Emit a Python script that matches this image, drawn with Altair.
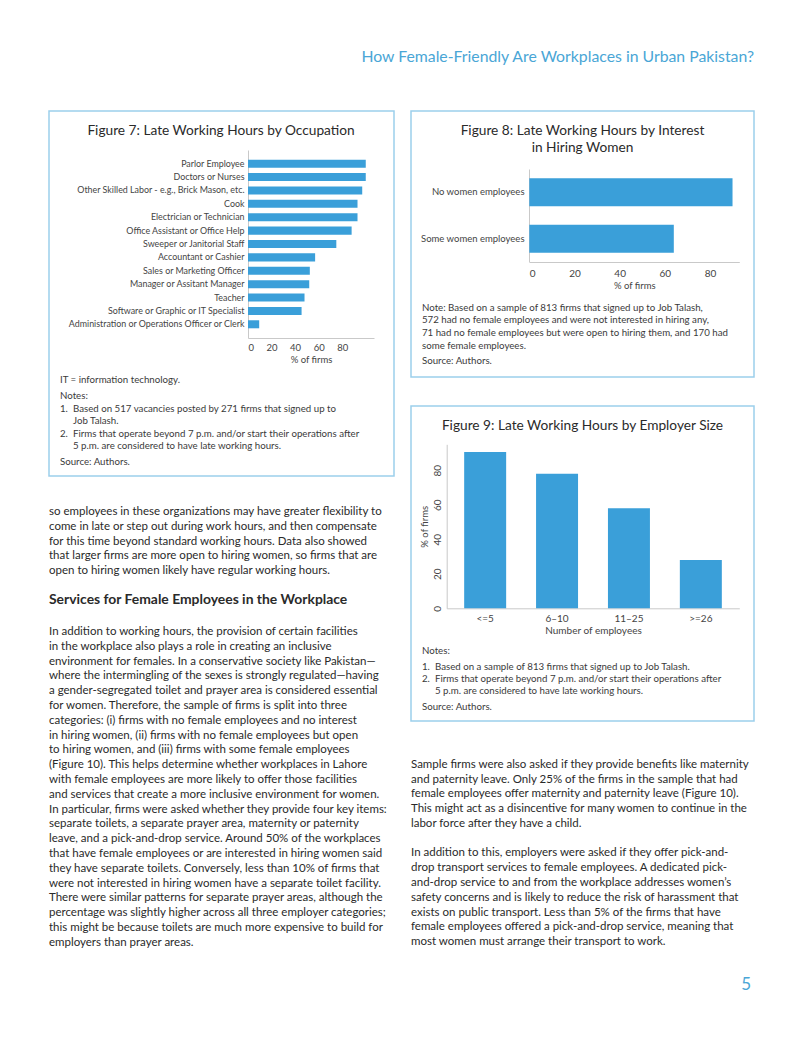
import altair as alt
import pandas as pd

FONT = "Lato"
BAR = "#3a9fd9"
BORDER = "#9ccfec"
ACCENT = "#4aa6d6"
INK = "#2a2a2a"
NOTE = "#3a3a3a"
AXIS_C = "#c9c9c9"

# ---------------- data ----------------
occupations = [
    "Parlor Employee",
    "Doctors or Nurses",
    "Other Skilled Labor - e.g., Brick Mason, etc.",
    "Cook",
    "Electrician or Technician",
    "Office Assistant or Office Help",
    "Sweeper or Janitorial Staff",
    "Accountant or Cashier",
    "Sales or Marketing Officer",
    "Manager or Assitant Manager",
    "Teacher",
    "Software or Graphic or IT Specialist",
    "Administration or Operations Officer or Clerk",
]
occupation_pct = [100, 100, 97, 93, 93, 88, 75, 57, 52.5, 52, 48, 45.5, 9.5]
occ_ticks = [0, 20, 40, 60, 80]

interest_groups = ["No women employees", "Some women employees"]
interest_pct = [90, 64]
interest_ticks = [0, 20, 40, 60, 80]

size_groups = ["<=5", "6\u201310", "11\u201325", ">=26"]
size_pct = [90.5, 78, 58, 28]
size_ticks = [0, 20, 40, 60, 80]

ONE = pd.DataFrame({"k": [0]})


def text(lines, x, y, size=10, color=INK, align="left", weight="normal", lh=None):
    base = y + 0.33 * size
    return alt.Chart(ONE).mark_text(
        align=align, baseline="alphabetic", font=FONT, fontSize=size,
        fontWeight=weight, color=color, lineHeight=lh if lh else size * 1.25,
    ).encode(x=alt.value(x), y=alt.value(base), text=alt.value(lines))


AX = dict(domainColor=AXIS_C, ticks=False, grid=False, labelFont=FONT,
          labelColor="#444", titleFont=FONT, titleColor="#444",
          titleFontWeight="normal")

BOX_VIEW = alt.ViewBackground(stroke=BORDER, strokeWidth=1.5, strokeOpacity=1, fill="white")
PLAIN_VIEW = alt.ViewBackground(stroke="transparent", strokeOpacity=0)

NOTE_SIZE = 9.7
TITLE_SIZE = 13.7

# ---------------- Figure 7 ----------------
occ_df = pd.DataFrame({"occupation": occupations, "pct": occupation_pct})
bars7 = alt.Chart(occ_df).mark_bar(color=BAR).encode(
    x=alt.X("pct:Q",
            scale=alt.Scale(domain=[0, 107], range=[199, 325], nice=False, zero=True),
            axis=alt.Axis(values=occ_ticks, offset=-138, title="% of firms",
                          labelFontSize=9.5, titleFontSize=9.5, labelPadding=4,
                          titlePadding=3, **AX)),
    y=alt.Y("occupation:N", sort=occupations,
            scale=alt.Scale(range=[39, 227], paddingInner=0.4, paddingOuter=0.725),
            axis=alt.Axis(offset=-199, title=None, labelFontSize=8.9, labelPadding=4,
                          labelLimit=300, **AX)),
)
fig7 = alt.layer(
    text("Figure 7: Late Working Hours by Occupation", 172, 19, size=TITLE_SIZE, align="center"),
    bars7,
    text("IT = information technology.", 11, 269, size=NOTE_SIZE, color=NOTE),
    text("Notes:", 11, 285, size=NOTE_SIZE, color=NOTE),
    text("1.", 11, 297.7, size=NOTE_SIZE, color=NOTE),
    text(["Based on 517 vacancies posted by 271 firms that signed up to", "Job Talash."],
         24, 297.7, size=NOTE_SIZE, color=NOTE, lh=12.2),
    text("2.", 11, 322.7, size=NOTE_SIZE, color=NOTE),
    text(["Firms that operate beyond 7 p.m. and/or start their operations after",
          "5 p.m. are considered to have late working hours."],
         24, 322.7, size=NOTE_SIZE, color=NOTE, lh=12.2),
    text("Source: Authors.", 11, 351, size=NOTE_SIZE, color=NOTE),
).properties(width=345, height=365, view=BOX_VIEW)

# ---------------- Figure 8 ----------------
int_df = pd.DataFrame({"group": interest_groups, "pct": interest_pct})
bars8 = alt.Chart(int_df).mark_bar(color=BAR).encode(
    x=alt.X("pct:Q",
            scale=alt.Scale(domain=[0, 93], range=[118.3, 328.3], nice=False, zero=True),
            axis=alt.Axis(values=interest_ticks, offset=-115, title="% of firms",
                          labelFontSize=10, titleFontSize=9.5, labelPadding=6,
                          titlePadding=2, **AX)),
    y=alt.Y("group:N", sort=interest_groups,
            scale=alt.Scale(range=[58, 151], paddingInner=0.395, paddingOuter=0.2),
            axis=alt.Axis(offset=-118, title=None, labelFontSize=9.5, labelPadding=5,
                          labelLimit=300, **AX)),
)
fig8 = alt.layer(
    text(["Figure 8: Late Working Hours by Interest", "in Hiring Women"], 171.5, 19.3,
         size=TITLE_SIZE, align="center", lh=16.7),
    bars8,
    text(["Note: Based on a sample of 813 firms that signed up to Job Talash,",
          "572 had no female employees and were not interested in hiring any,",
          "71 had no female employees but were open to hiring them, and 170 had",
          "some female employees."], 11, 196.7, size=NOTE_SIZE, color=NOTE, lh=12.6),
    text("Source: Authors.", 11, 250, size=NOTE_SIZE, color=NOTE),
).properties(width=343, height=266, view=BOX_VIEW)

# ---------------- Figure 9 ----------------
size_df = pd.DataFrame({"size": size_groups, "pct": size_pct})
bars9 = alt.Chart(size_df).mark_bar(color=BAR).encode(
    x=alt.X("size:N", sort=size_groups,
            scale=alt.Scale(range=[35.7, 328.3], paddingInner=0.416, paddingOuter=0.243),
            axis=alt.Axis(offset=-112.7, title="Number of employees", labelAngle=0,
                          labelFontSize=10, titleFontSize=10, labelPadding=5,
                          titlePadding=2, **AX)),
    y=alt.Y("pct:Q",
            scale=alt.Scale(domain=[0, 95], range=[202.3, 38.3], nice=False, zero=True),
            axis=alt.Axis(values=size_ticks, offset=-35.7, title="% of firms",
                          labelAngle=270, labelAlign="center", labelBaseline="bottom",
                          labelFontSize=10, titleFontSize=9.5, labelPadding=4,
                          titlePadding=3, **AX)),
)
fig9 = alt.layer(
    text("Figure 9: Late Working Hours by Employer Size", 171.5, 19, size=TITLE_SIZE, align="center"),
    bars9,
    text("Notes:", 11, 244.3, size=NOTE_SIZE, color=NOTE),
    text("1.", 11, 260.7, size=NOTE_SIZE, color=NOTE),
    text("Based on a sample of 813 firms that signed up to Job Talash.", 24, 260.7,
         size=NOTE_SIZE, color=NOTE),
    text("2.", 11, 272.7, size=NOTE_SIZE, color=NOTE),
    text(["Firms that operate beyond 7 p.m. and/or start their operations after",
          "5 p.m. are considered to have late working hours."],
         24, 272.7, size=NOTE_SIZE, color=NOTE, lh=12.3),
    text("Source: Authors.", 11, 301, size=NOTE_SIZE, color=NOTE),
).properties(width=343, height=315, view=BOX_VIEW)

# ---------------- body text ----------------
BODY = 11.5
LH = 14.8
left_p1 = [
    "so employees in these organizations may have greater flexibility to",
    "come in late or step out during work hours, and then compensate",
    "for this time beyond standard working hours. Data also showed",
    "that larger firms are more open to hiring women, so firms that are",
    "open to hiring women likely have regular working hours.",
]
left_head = "Services for Female Employees in the Workplace"
left_p2 = [
    "In addition to working hours, the provision of certain facilities",
    "in the workplace also plays a role in creating an inclusive",
    "environment for females. In a conservative society like Pakistan\u2014",
    "where the intermingling of the sexes is strongly regulated\u2014having",
    "a gender-segregated toilet and prayer area is considered essential",
    "for women. Therefore, the sample of firms is split into three",
    "categories: (i) firms with no female employees and no interest",
    "in hiring women, (ii) firms with no female employees but open",
    "to hiring women, and (iii) firms with some female employees",
    "(Figure 10). This helps determine whether workplaces in Lahore",
    "with female employees are more likely to offer those facilities",
    "and services that create a more inclusive environment for women.",
    "In particular, firms were asked whether they provide four key items:",
    "separate toilets, a separate prayer area, maternity or paternity",
    "leave, and a pick-and-drop service. Around 50% of the workplaces",
    "that have female employees or are interested in hiring women said",
    "they have separate toilets. Conversely, less than 10% of firms that",
    "were not interested in hiring women have a separate toilet facility.",
    "There were similar patterns for separate prayer areas, although the",
    "percentage was slightly higher across all three employer categories;",
    "this might be because toilets are much more expensive to build for",
    "employers than prayer areas.",
]
right_p1 = [
    "Sample firms were also asked if they provide benefits like maternity",
    "and paternity leave. Only 25% of the firms in the sample that had",
    "female employees offer maternity and paternity leave (Figure 10).",
    "This might act as a disincentive for many women to continue in the",
    "labor force after they have a child.",
]
right_p2 = [
    "In addition to this, employers were asked if they offer pick-and-",
    "drop transport services to female employees. A dedicated pick-",
    "and-drop service to and from the workplace addresses women\u2019s",
    "safety concerns and is likely to reduce the risk of harassment that",
    "exists on public transport. Less than 5% of the firms that have",
    "female employees offered a pick-and-drop service, meaning that",
    "most women must arrange their transport to work.",
]

left_text = alt.layer(
    text(left_p1, 0, 34.3, size=BODY, color=INK, lh=LH),
    text(left_head, 0, 122.3, size=13.9, color=INK, weight="bold"),
    text(left_p2, 0, 154.3, size=BODY, color=INK, lh=LH),
).properties(width=345, height=524, view=PLAIN_VIEW)

right_text = alt.layer(
    text(right_p1, 0, 15, size=BODY, color=INK, lh=LH),
    text(right_p2, 0, 103.7, size=BODY, color=INK, lh=LH),
    text("5", 340, 235, size=17, color=ACCENT, align="right"),
).properties(width=343, height=250, view=PLAIN_VIEW)

header = alt.layer(
    text("How Female-Friendly Are Workplaces in Urban Pakistan?", 705, 49,
         size=15.8, color=ACCENT, align="right"),
).properties(width=705, height=102, view=PLAIN_VIEW)

left_col = alt.vconcat(fig7, left_text, spacing=0)
right_col = alt.vconcat(fig8, fig9, right_text, spacing=27)

chart = alt.vconcat(
    header,
    alt.hconcat(left_col, right_col, spacing=15),
    spacing=0,
).properties(
    padding={"left": 40, "top": 0, "right": 0, "bottom": 0},
    background="white",
).configure(
    font=FONT,
    view=alt.ViewConfig(strokeOpacity=0),
)

chart.save("out.html", embed_options={"renderer": "svg", "actions": False})
